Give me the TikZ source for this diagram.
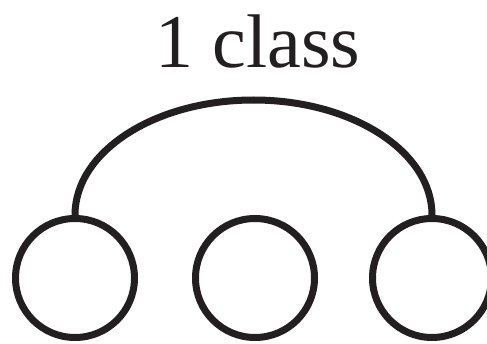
\documentclass[tikz,border=0pt]{standalone}
\usepackage{fontspec}
\setmainfont{Liberation Serif}
\usetikzlibrary{positioning}
\definecolor{inkblack}{HTML}{231F20}
\tikzset{unit/.style={circle, draw=inkblack, line width=7pt, minimum size=119pt, inner sep=0pt}}

\begin{document}
\begin{tikzpicture}[x=1pt, y=1pt]
\useasboundingbox (0,0) rectangle (487,343);
\clip (0,0) rectangle (487,343);
% three units
\node[unit] (u1) at (75,65) {};
\node[unit] (u2) at (255,65) {};
\node[unit] (u3) at (432,65) {};

% grouping arc over the outer units
\draw[inkblack, line width=7pt] (u1.north) arc[start angle=180, end angle=0, x radius=178.5, y radius=115];
\node[anchor=base, font=\fontsize{76}{80}\selectfont, text=inkblack, inner sep=0pt] (label) at (258,275) {1 class};

\end{tikzpicture}
\end{document}
